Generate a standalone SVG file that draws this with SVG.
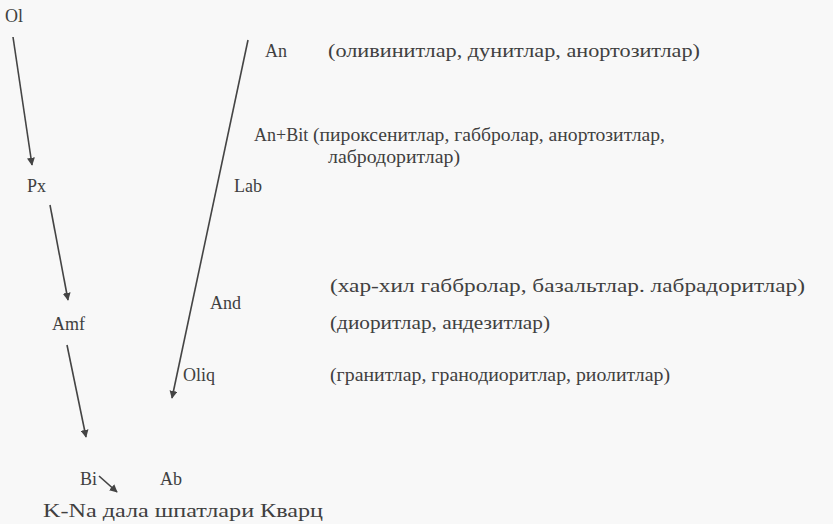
<svg xmlns="http://www.w3.org/2000/svg" width="833" height="524" viewBox="0 0 833 524">
<style>
text{font-family:"Liberation Serif","Times New Roman","DejaVu Serif",serif;font-size:18px;fill:#404040}
.c{stroke:#444;stroke-width:1.6;fill:none}
</style>
<defs>
<marker id="ah" viewBox="0 0 10 10" refX="9" refY="5" markerWidth="8" markerHeight="8" orient="auto" markerUnits="userSpaceOnUse">
<path d="M0,0 L10,5 L0,10 z" fill="#444"/>
</marker>
</defs>
<rect width="833" height="524" fill="#f8f8f8"/>
<g id="connectors">
<line class="c" x1="13" y1="37" x2="32" y2="165" marker-end="url(#ah)"/>
<line class="c" x1="50" y1="205" x2="68" y2="300" marker-end="url(#ah)"/>
<line class="c" x1="67" y1="345" x2="86" y2="437" marker-end="url(#ah)"/>
<line class="c" x1="99" y1="476" x2="117" y2="492" marker-end="url(#ah)"/>
<line class="c" x1="248" y1="40" x2="172" y2="398" marker-end="url(#ah)"/>
</g>
<g id="n-ol"><text x="5" y="22">Ol</text></g>
<g id="n-px"><text x="27" y="192">Px</text></g>
<g id="n-amf"><text x="52" y="330">Amf</text></g>
<g id="n-bi"><text x="80" y="485">Bi</text></g>
<g id="n-ab"><text x="160" y="485">Ab</text></g>
<g id="n-kna"><text x="43" y="517" textLength="280" lengthAdjust="spacingAndGlyphs">K-Na  дала шпатлари Кварц</text></g>
<g id="n-an"><text x="265" y="57">An</text><text x="328" y="57" textLength="372" lengthAdjust="spacingAndGlyphs">(оливинитлар, дунитлар, анортозитлар)</text></g>
<g id="n-anbit"><text x="254" y="141">An+Bit</text><text x="313" y="141" textLength="352" lengthAdjust="spacingAndGlyphs">(пироксенитлар, габбролар, анортозитлар,</text><text x="328" y="163" textLength="132" lengthAdjust="spacingAndGlyphs">лабродоритлар)</text></g>
<g id="n-lab"><text x="234" y="192">Lab</text></g>
<g id="n-lab-desc"><text x="330" y="292" textLength="475" lengthAdjust="spacingAndGlyphs">(хар-хил габбролар, базальтлар. лабрадоритлар)</text></g>
<g id="n-and"><text x="210" y="309">And</text><text x="330" y="329" textLength="220" lengthAdjust="spacingAndGlyphs">(диоритлар, андезитлар)</text></g>
<g id="n-oliq"><text x="183" y="381">Oliq</text><text x="330" y="381" textLength="340" lengthAdjust="spacingAndGlyphs">(гранитлар, гранодиоритлар, риолитлар)</text></g>
</svg>
